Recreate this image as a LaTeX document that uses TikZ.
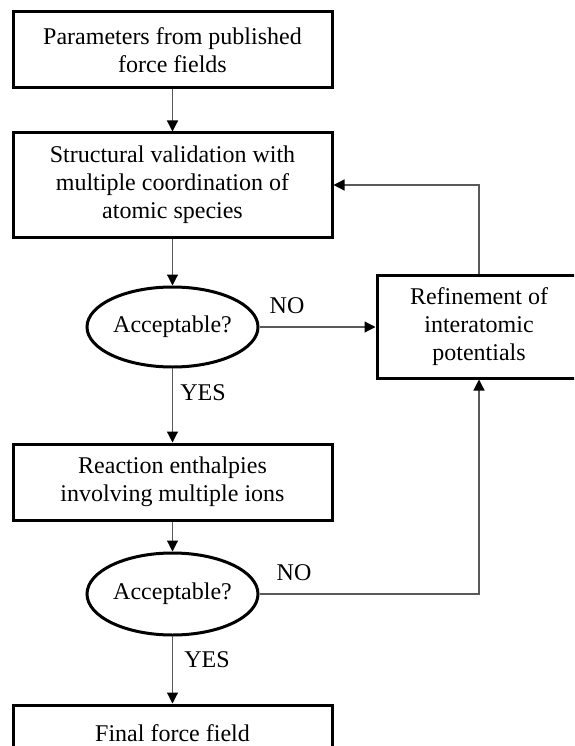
\documentclass[tikz,border=0pt]{standalone}
\usepackage{fontspec}
\setmainfont{Liberation Serif}
\usetikzlibrary{arrows.meta,shapes.geometric}
\begin{document}
\begin{tikzpicture}[x=1pt,y=-1pt,
  every node/.style={font=\fontsize{24}{28}\selectfont},
  box/.style={draw=black,line width=3pt,rectangle,align=center,inner sep=0pt,minimum width=319pt},
  oval/.style={draw=black,line width=3pt,ellipse,inner sep=0pt,minimum width=171pt,minimum height=80pt},
  conn/.style={draw=black!65,line width=1.2pt,-{Triangle[length=11pt,width=11pt,color=black]}},
  lbl/.style={inner sep=0pt}
]
\useasboundingbox (0,0) rectangle (574,746);
\clip (0,0) rectangle (574,746);
\node[box,minimum height=76pt] (b1) at (172.5,50) {Parameters from published\\force fields};
\node[box,minimum height=104pt] (b2) at (172.5,185) {Structural validation with\\multiple coordination of\\atomic species};
\node[oval] (e1) at (172.5,327) {Acceptable?};
\node[box,minimum width=204pt,minimum height=103pt] (r) at (479,326.5) {Refinement of\\interatomic\\potentials};
\node[box,minimum height=76pt] (b3) at (172.5,482) {Reaction enthalpies\\involving multiple ions};
\node[oval,minimum height=82pt] (e2) at (172.5,594) {Acceptable?};
\node[box,minimum height=56pt] (f) at (172.5,733) {Final force field};

\draw[conn] (b1) -- (b2);
\draw[conn] (b2) -- (e1);
\draw[conn] (e1) -- (r.west |- e1.east);
\draw[conn] (r.north) |- (b2.east);
\draw[conn] (e1) -- (b3);
\draw[conn] (b3) -- (e2);
\draw[conn] (e2.east) -| (r.south);
\draw[conn] (e2) -- (f);

\node[lbl] (no1) at (287,306) {NO};
\node[lbl] (no2) at (294,573) {NO};
\node[lbl] (yes1) at (203,393) {YES};
\node[lbl] (yes2) at (207,660) {YES};
\end{tikzpicture}
\end{document}
